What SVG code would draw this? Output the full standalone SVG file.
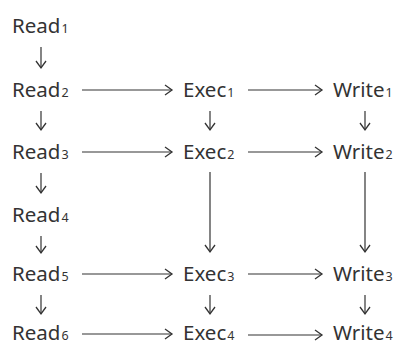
<svg xmlns="http://www.w3.org/2000/svg" width="400" height="347" viewBox="0 0 400 347">
  <style>
    .lbl { font-family: "Noto Sans", "Open Sans", sans-serif; font-size: 20.5px; fill: #333; }
    .sub { font-size: 12.5px; }
    .edge { stroke: #333; stroke-width: 1.2; fill: none; marker-end: url(#head); }
  </style>
  <defs>
    <marker id="head" markerUnits="userSpaceOnUse" markerWidth="10" markerHeight="12" refX="7" refY="5" orient="auto" overflow="visible">
      <path d="M0,0 L7,5 L0,10" fill="none" stroke="#333" stroke-width="1.3"/>
    </marker>
  </defs>
  <rect width="400" height="347" fill="#fff"/>

  <!-- Read column -->
  <g id="read1"><text class="lbl" x="12" y="33">Read<tspan class="sub" dx="1">1</tspan></text></g>
  <g id="read2"><text class="lbl" x="12" y="97">Read<tspan class="sub" dx="1">2</tspan></text></g>
  <g id="read3"><text class="lbl" x="12" y="159">Read<tspan class="sub" dx="1">3</tspan></text></g>
  <g id="read4"><text class="lbl" x="12" y="222">Read<tspan class="sub" dx="1">4</tspan></text></g>
  <g id="read5"><text class="lbl" x="12" y="281">Read<tspan class="sub" dx="1">5</tspan></text></g>
  <g id="read6"><text class="lbl" x="12" y="340">Read<tspan class="sub" dx="1">6</tspan></text></g>

  <!-- Exec column -->
  <g id="exec1"><text class="lbl" x="183" y="97">Exec<tspan class="sub" dx="1">1</tspan></text></g>
  <g id="exec2"><text class="lbl" x="183" y="159">Exec<tspan class="sub" dx="1">2</tspan></text></g>
  <g id="exec3"><text class="lbl" x="183" y="281">Exec<tspan class="sub" dx="1">3</tspan></text></g>
  <g id="exec4"><text class="lbl" x="183" y="340">Exec<tspan class="sub" dx="1">4</tspan></text></g>

  <!-- Write column -->
  <g id="write1"><text class="lbl" x="333" y="97">Write<tspan class="sub" dx="1">1</tspan></text></g>
  <g id="write2"><text class="lbl" x="333" y="159">Write<tspan class="sub" dx="1">2</tspan></text></g>
  <g id="write3"><text class="lbl" x="333" y="281">Write<tspan class="sub" dx="1">3</tspan></text></g>
  <g id="write4"><text class="lbl" x="333" y="340">Write<tspan class="sub" dx="1">4</tspan></text></g>

  <g id="connectors">
    <!-- vertical: Read column -->
    <line class="edge" x1="41" y1="47" x2="41" y2="68"/>
    <line class="edge" x1="41" y1="111" x2="41" y2="130"/>
    <line class="edge" x1="41" y1="173" x2="41" y2="193"/>
    <line class="edge" x1="41" y1="236" x2="41" y2="253"/>
    <line class="edge" x1="41" y1="295" x2="41" y2="314"/>
    <!-- vertical: Exec column -->
    <line class="edge" x1="210" y1="111" x2="210" y2="130"/>
    <line class="edge" x1="210" y1="172" x2="210" y2="252"/>
    <line class="edge" x1="210" y1="295" x2="210" y2="314"/>
    <!-- vertical: Write column -->
    <line class="edge" x1="365" y1="111" x2="365" y2="130"/>
    <line class="edge" x1="365" y1="172" x2="365" y2="252"/>
    <line class="edge" x1="365" y1="295" x2="365" y2="314"/>
    <!-- horizontal: Read to Exec -->
    <line class="edge" x1="82" y1="90" x2="172" y2="90"/>
    <line class="edge" x1="82" y1="152" x2="172" y2="152"/>
    <line class="edge" x1="82" y1="274" x2="172" y2="274"/>
    <line class="edge" x1="82" y1="334" x2="172" y2="334"/>
    <!-- horizontal: Exec to Write -->
    <line class="edge" x1="248" y1="90" x2="322" y2="90"/>
    <line class="edge" x1="248" y1="152" x2="322" y2="152"/>
    <line class="edge" x1="248" y1="274" x2="322" y2="274"/>
    <line class="edge" x1="248" y1="335" x2="322" y2="335"/>
  </g>
</svg>
